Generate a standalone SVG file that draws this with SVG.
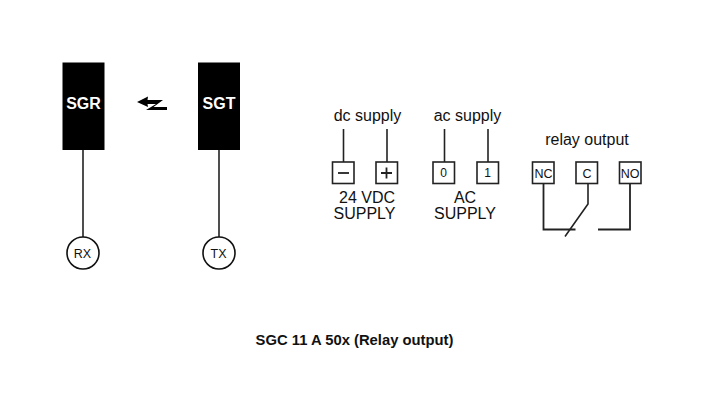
<svg xmlns="http://www.w3.org/2000/svg" width="720" height="411" viewBox="0 0 720 411">
<style>
text{font-family:"Liberation Sans",Arial,sans-serif;fill:#111;text-anchor:middle}
.box{fill:#000}
.b{font-weight:bold}
.w{fill:#fff;font-size:16px}
.lab{font-size:16px}
.small{font-size:12.500px}
.t{fill:#fff;stroke:#222;stroke-width:1.600}
.c{fill:#fff;stroke:#111;stroke-width:1.600}
#connectors path{fill:none;stroke:#222;stroke-width:1.600}
</style>
<rect width="720" height="411" fill="#fff"/>
<g id="connectors">
<path d="M83 150V237"/>
<path d="M219 150V237"/>
<path d="M343.500 129V162"/>
<path d="M387 129V162"/>
<path d="M444.500 129V162"/>
<path d="M488 129V162"/>
<path d="M543.500 183V229.500H575.500" style="stroke-width:1.800"/>
<path d="M588 183V204L565 236.500"/>
<path d="M630 183V229.500H598" style="stroke-width:1.800"/>
</g>
<g id="SGR"><rect class="box" x="62.500" y="62.500" width="42" height="87.500"/><text class="b w" x="83.500" y="109">SGR</text></g>
<g id="SGT"><rect class="box" x="198" y="62.500" width="42" height="87.500"/><text class="b w" x="219" y="109">SGT</text></g>
<g id="link"><path d="M137 102L148 96.500L147.500 100H163L153.500 107H167V110H146L156 104H147.500L148 107Z" fill="#000"/></g>
<g id="RX"><circle class="c" cx="83" cy="253" r="16"/><text class="small" x="82.500" y="257.500">RX</text></g>
<g id="TX"><circle class="c" cx="219" cy="253" r="16"/><text class="small" x="218.500" y="257.500">TX</text></g>
<g id="dc"><text class="lab" x="367.500" y="121">dc supply</text></g>
<g id="ac"><text class="lab" x="467.500" y="121">ac supply</text></g>
<g id="relay"><text class="lab" x="587" y="145">relay output</text></g>
<g id="minus"><rect class="t" x="332.500" y="162" width="21.500" height="21.500"/><path d="M338 173H349" stroke="#222" stroke-width="1.800"/></g>
<g id="plus"><rect class="t" x="376" y="162" width="21.500" height="21.500"/><path d="M381 173H392M386.500 167.500V178.500" stroke="#222" stroke-width="1.800"/></g>
<g id="t0"><rect class="t" x="433" y="162" width="21.500" height="21.500"/><text class="small" x="443.500" y="177" style="font-size:12px">0</text></g>
<g id="t1"><rect class="t" x="477" y="162" width="21.500" height="21.500"/><text class="small" x="487.500" y="177" style="font-size:12px">1</text></g>
<g id="NC"><rect class="t" x="532.500" y="162" width="21.500" height="21.500"/><text class="small" x="543.500" y="177.500">NC</text></g>
<g id="C"><rect class="t" x="576" y="162" width="21.500" height="21.500"/><text class="small" x="587" y="177.500">C</text></g>
<g id="NO"><rect class="t" x="619.500" y="162" width="21.500" height="21.500"/><text class="small" x="630" y="177.500">NO</text></g>
<text class="lab" x="367" y="203">24 VDC</text>
<text class="lab" x="364.500" y="219">SUPPLY</text>
<text class="lab" x="465" y="203">AC</text>
<text class="lab" x="465" y="219">SUPPLY</text>
<text class="b" x="354.500" y="345" style="font-size:14.800px">SGC 11 A 50x (Relay output)</text>
</svg>
